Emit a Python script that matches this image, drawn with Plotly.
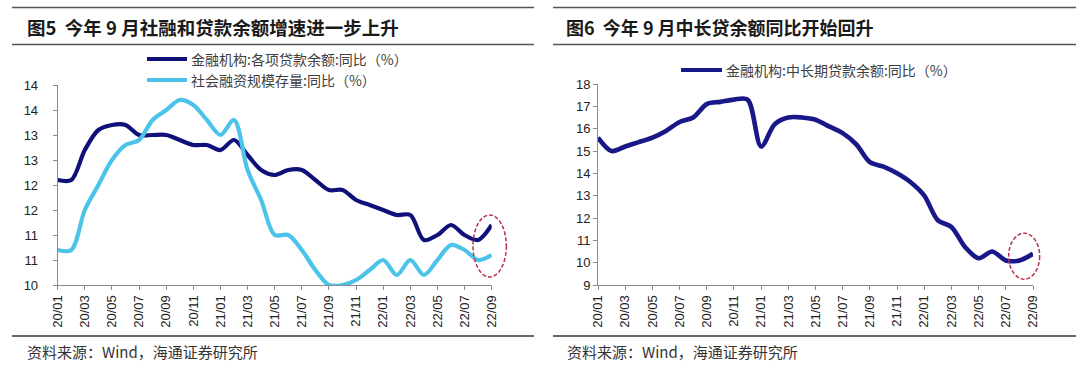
import plotly.graph_objects as go

# ---------------- data ----------------
MONTHS = [
    "20/01", "20/02", "20/03", "20/04", "20/05", "20/06", "20/07", "20/08", "20/09", "20/10", "20/11", "20/12",
    "21/01", "21/02", "21/03", "21/04", "21/05", "21/06", "21/07", "21/08", "21/09", "21/10", "21/11", "21/12",
    "22/01", "22/02", "22/03", "22/04", "22/05", "22/06", "22/07", "22/08", "22/09",
]
LOAN_YOY = [
    12.1, 12.1, 12.7, 13.1, 13.2, 13.2, 13.0, 13.0, 13.0, 12.9, 12.8, 12.8,
    12.7, 12.9, 12.6, 12.3, 12.2, 12.3, 12.3, 12.1, 11.9, 11.9, 11.7, 11.6,
    11.5, 11.4, 11.4, 10.9, 11.0, 11.2, 11.0, 10.9, 11.2,
]
TSF_YOY = [
    10.7, 10.7, 11.5, 12.0, 12.5, 12.8, 12.9, 13.3, 13.5, 13.7, 13.6, 13.3,
    13.0, 13.3, 12.3, 11.7, 11.0, 11.0, 10.7, 10.3, 10.0, 10.0, 10.1, 10.3,
    10.5, 10.2, 10.5, 10.2, 10.5, 10.8, 10.7, 10.5, 10.6,
]
MLT_LOAN_YOY = [
    15.6, 15.0, 15.2, 15.4, 15.6, 15.9, 16.3, 16.5, 17.1, 17.2, 17.3, 17.3,
    15.2, 16.2, 16.5, 16.5, 16.4, 16.1, 15.8, 15.3, 14.5, 14.3, 14.0, 13.6,
    13.0, 11.9, 11.6, 10.7, 10.2, 10.5, 10.1, 10.1, 10.4,
]
X_TICKS = MONTHS[::2]

LEFT_Y_TICKVALS = [10, 10.5, 11, 11.5, 12, 12.5, 13, 13.5, 14]
LEFT_Y_TICKTEXT = ["10", "11", "11", "12", "12", "13", "13", "14", "14"]
RIGHT_Y_TICKVALS = [9, 10, 11, 12, 13, 14, 15, 16, 17, 18]
RIGHT_Y_TICKTEXT = ["9", "10", "11", "12", "13", "14", "15", "16", "17", "18"]

NAME_LOAN = "金融机构:各项贷款余额:同比（%）"
NAME_TSF = "社会融资规模存量:同比（%）"
NAME_MLT = "金融机构:中长期贷款余额:同比（%）"

TITLE_L = "<b>图5  今年 9 月社融和贷款余额增速进一步上升</b>"
TITLE_R = "<b>图6  今年 9 月中长贷余额同比开始回升</b>"
SOURCE = "资料来源：Wind，海通证券研究所"

# ---------------- styling ----------------
W, H = 1080, 370
DARK_L = "#10107a"
DARK_R = "#181888"
LIGHT = "#4cc4ea"
RED = "#b8344a"
AXIS_C = "#8a8a8a"
TICK_FONT = dict(family="Liberation Sans, Arial, sans-serif", size=13, color="#222222")
CJK = "Noto Sans CJK SC, sans-serif"


def px(x):
    return x / W


def py(y):
    return 1 - y / H


L_XDOM = [px(57.7), px(491.7)]
R_XDOM = [px(598), px(1033)]
L_YDOM = [py(285), py(85)]
R_YDOM = [py(285), py(84)]
L_YR = [10, 14]
R_YR = [9, 18]
XR = [0, len(MONTHS) - 1]


def to_paper(xi, yv, xdom, yr, ydom):
    fx = xdom[0] + (xi - XR[0]) / (XR[1] - XR[0]) * (xdom[1] - xdom[0])
    fy = ydom[0] + (yv - yr[0]) / (yr[1] - yr[0]) * (ydom[1] - ydom[0])
    return fx, fy


fig = go.Figure()
fig.add_trace(go.Scatter(x=MONTHS, y=LOAN_YOY, name=NAME_LOAN, mode="lines",
                         line=dict(color=DARK_L, shape="spline", smoothing=0.9, width=4.2),
                         xaxis="x", yaxis="y", showlegend=False))
fig.add_trace(go.Scatter(x=MONTHS, y=TSF_YOY, name=NAME_TSF, mode="lines",
                         line=dict(color=LIGHT, shape="spline", smoothing=0.9, width=4.2),
                         xaxis="x", yaxis="y", showlegend=False))
fig.add_trace(go.Scatter(x=MONTHS, y=MLT_LOAN_YOY, name=NAME_MLT, mode="lines",
                         line=dict(color=DARK_R, shape="spline", smoothing=0.9, width=4.6),
                         xaxis="x2", yaxis="y2", showlegend=False))

xcommon = dict(type="category", range=XR, tickmode="array", tickvals=X_TICKS, ticktext=X_TICKS,
               showline=True, linecolor=AXIS_C, linewidth=1, ticks="outside", ticklen=4,
               tickcolor=AXIS_C, tickwidth=1, tickangle=-90, tickfont=TICK_FONT,
               showgrid=False, zeroline=False, automargin=False, fixedrange=True)
ycommon = dict(showline=True, linecolor=AXIS_C, linewidth=1, ticks="outside", ticklen=4,
               tickcolor=AXIS_C, tickwidth=1, tickfont=TICK_FONT, tickmode="array",
               showgrid=False, zeroline=False, automargin=False, fixedrange=True)

shapes = []
annotations = []

# rules
for x0, x1 in [(12, 534), (553, 1076)]:
    shapes.append(dict(type="line", xref="paper", yref="paper", x0=px(x0), x1=px(x1), y0=py(7.5), y1=py(7.5),
                       line=dict(color="#555555", width=1.5)))
    shapes.append(dict(type="line", xref="paper", yref="paper", x0=px(x0), x1=px(x1), y0=py(44.5), y1=py(44.5),
                       line=dict(color="#555555", width=1.5)))
    shapes.append(dict(type="line", xref="paper", yref="paper", x0=px(x0), x1=px(x1), y0=py(336), y1=py(336),
                       line=dict(color="#333333", width=1.5)))

# titles and sources
for x, t, s in [(25, TITLE_L, 18.5), (564, TITLE_R, 18)]:
    annotations.append(dict(text=t, x=px(x), y=py(27), xref="paper", yref="paper", xanchor="left",
                            yanchor="middle", showarrow=False, font=dict(family=CJK, size=s, color="#1a1a1a")))
for x in [25, 565]:
    annotations.append(dict(text=SOURCE, x=px(x), y=py(351), xref="paper", yref="paper", xanchor="left",
                            yanchor="middle", showarrow=False, font=dict(family=CJK, size=15, color="#333333")))

# custom legends
for (lx0, lx1, ly, col, name) in [(147, 187, 59, DARK_L, NAME_LOAN), (147, 187, 80, LIGHT, NAME_TSF),
                                  (681, 722, 70, DARK_R, NAME_MLT)]:
    shapes.append(dict(type="line", xref="paper", yref="paper", x0=px(lx0), x1=px(lx1), y0=py(ly), y1=py(ly),
                       line=dict(color=col, width=4)))
    annotations.append(dict(text=name, x=px(lx1 + 2), y=py(ly), xref="paper", yref="paper", xanchor="left",
                            yanchor="middle", showarrow=False, font=dict(family=CJK, size=14, color="#404040")))

# dashed ellipses around the latest readings
for (cx, cy, hx, hy, xdom, yr, ydom) in [(31.85, 10.78, 1.23, 0.62, L_XDOM, L_YR, L_YDOM),
                                         (31.35, 10.29, 1.14, 1.03, R_XDOM, R_YR, R_YDOM)]:
    x0, y0 = to_paper(cx - hx, cy - hy, xdom, yr, ydom)
    x1, y1 = to_paper(cx + hx, cy + hy, xdom, yr, ydom)
    shapes.append(dict(type="circle", xref="paper", yref="paper", x0=x0, x1=x1, y0=y0, y1=y1,
                       line=dict(color=RED, width=1.5, dash="4px,2px")))

fig.update_layout(
    width=W, height=H, autosize=False,
    margin=dict(l=0, r=0, t=0, b=0),
    paper_bgcolor="white", plot_bgcolor="white",
    showlegend=False,
    hovermode=False,
    xaxis=dict(domain=L_XDOM, anchor="y", **xcommon),
    yaxis=dict(domain=L_YDOM, anchor="x", range=L_YR, tickvals=LEFT_Y_TICKVALS, ticktext=LEFT_Y_TICKTEXT,
               ticklabelstandoff=12, **ycommon),
    xaxis2=dict(domain=R_XDOM, anchor="y2", **xcommon),
    yaxis2=dict(domain=R_YDOM, anchor="x2", range=R_YR, tickvals=RIGHT_Y_TICKVALS, ticktext=RIGHT_Y_TICKTEXT,
                ticklabelstandoff=0, **ycommon),
    shapes=shapes,
    annotations=annotations,
)

fig.write_html(
    "out.html",
    config={"displayModeBar": False, "staticPlot": True},
    post_script="document.body.style.margin='0';document.body.style.overflow='hidden';",
)
